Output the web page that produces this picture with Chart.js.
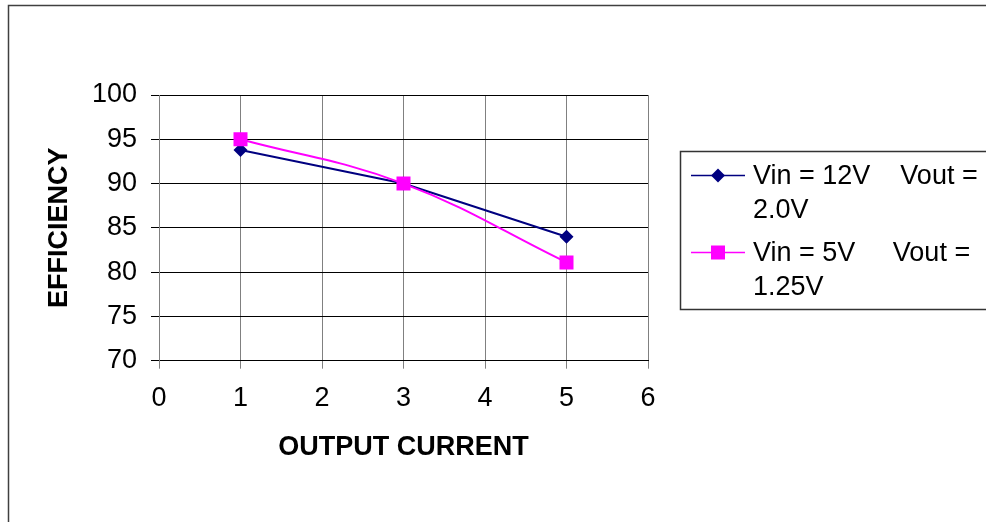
<!DOCTYPE html>
<html>
<head>
<meta charset="utf-8">
<title>Efficiency vs Output Current</title>
<script src="https://cdn.jsdelivr.net/npm/chart.js@4.4.1/dist/chart.umd.min.js"></script>
<style>
    html, body {
        margin: 0;
        padding: 0;
        background: #ffffff;
        overflow: hidden;
    }

    #wrap {
        position: relative;
        width: 986px;
        height: 522px;
    }
</style>
</head>
<body>
<div id="wrap">
    <canvas id="effChart"></canvas>
</div>

<script>
"use strict";

/* ---------- data ---------- */

const outputCurrent = [1, 3, 5];

const eff12V = [93.8, 90, 84];

const eff5V = [95, 90, 81.1];

const seriesLabels = [
    ["Vin = 12V    Vout =", "2.0V"],
    ["Vin = 5V     Vout =", "1.25V"]
];

const seriesColors = ["#000080", "#ff00ff"];

const xTicks = [0, 1, 2, 3, 4, 5, 6];

const yTicks = [70, 75, 80, 85, 90, 95, 100];

const FONT = "'Liberation Sans', Arial, sans-serif";


/* ---------- helpers ---------- */

function toPoints(xs, ys) {
    return xs.map((x, i) => ({ x: x, y: ys[i] }));
}


/* ---------- frame + legend plugin ---------- */

const frameLegend = {

    id: "frameLegend",

    beforeDraw(chart) {
        const ctx = chart.ctx;
        ctx.save();
        ctx.fillStyle = "#ffffff";
        ctx.fillRect(0, 0, chart.width, chart.height);
        ctx.strokeStyle = "#404040";
        ctx.lineWidth = 1.5;
        ctx.strokeRect(8.5, 5.5, chart.width + 20, chart.height + 20);
        ctx.restore();
    },

    afterDraw(chart) {
        const ctx = chart.ctx;
        const boxLeft = 680.5;
        const boxTop = 151.5;
        const boxBottom = 309.5;

        ctx.save();

        ctx.strokeStyle = "#333333";
        ctx.lineWidth = 1.5;
        ctx.strokeRect(boxLeft, boxTop, chart.width + 20, boxBottom - boxTop);

        const rowY = [175.5, 252.5];

        chart.data.datasets.forEach((ds, i) => {
            const y = rowY[i];

            ctx.strokeStyle = ds.borderColor;
            ctx.lineWidth = 1.5;
            ctx.beginPath();
            ctx.moveTo(691, y);
            ctx.lineTo(745, y);
            ctx.stroke();

            ctx.fillStyle = ds.backgroundColor;
            Chart.helpers.drawPoint(ctx, {
                pointStyle: ds.pointStyle,
                radius: ds.pointRadius,
                rotation: 0,
                borderWidth: 0
            }, 718, y);

            ctx.fillStyle = "#000000";
            ctx.font = "27px " + FONT;
            ctx.textBaseline = "middle";
            ctx.textAlign = "left";

            seriesLabels[i].forEach((line, j) => {
                ctx.fillText(line, 753, y + 1 + j * 34);
            });
        });

        ctx.restore();
    }
};


/* ---------- chart ---------- */

function createEfficiencyChart() {

    const canvas = document.getElementById("effChart");

    new Chart(canvas, {

        type: "line",

        data: {
            datasets: [
                {
                    label: seriesLabels[0].join(" "),
                    data: toPoints(outputCurrent, eff12V),
                    borderColor: seriesColors[0],
                    backgroundColor: seriesColors[0],
                    borderWidth: 2,
                    tension: 0,
                    pointStyle: "rectRot",
                    pointRadius: 7,
                    pointBorderWidth: 0,
                    order: 1
                },
                {
                    label: seriesLabels[1].join(" "),
                    data: toPoints(outputCurrent, eff5V),
                    borderColor: seriesColors[1],
                    backgroundColor: seriesColors[1],
                    borderWidth: 2,
                    tension: 0.4,
                    pointStyle: "rect",
                    pointRadius: 9.9,
                    pointBorderWidth: 0,
                    order: 0
                }
            ]
        },

        options: {

            responsive: true,
            maintainAspectRatio: false,
            animation: false,
            devicePixelRatio: 1,

            layout: {
                padding: { top: 95, right: 338, bottom: 0, left: 0 }
            },

            scales: {

                x: {
                    type: "linear",
                    min: xTicks[0],
                    max: xTicks[xTicks.length - 1],
                    afterBuildTicks: (scale) => {
                        scale.ticks = xTicks.map(v => ({ value: v }));
                    },
                    afterFit: (scale) => {
                        scale.height = 161.3;
                    },
                    grid: {
                        color: "#808080",
                        lineWidth: 1,
                        tickLength: 8
                    },
                    border: {
                        color: "#000000",
                        width: 1
                    },
                    ticks: {
                        color: "#000000",
                        padding: 14,
                        maxRotation: 0,
                        font: { family: FONT, size: 27 }
                    },
                    title: {
                        display: true,
                        text: "OUTPUT CURRENT",
                        color: "#000000",
                        padding: { top: 0, bottom: 57.8 },
                        font: { family: FONT, size: 27, weight: "bold" }
                    }
                },

                y: {
                    min: yTicks[0],
                    max: yTicks[yTicks.length - 1],
                    afterBuildTicks: (scale) => {
                        scale.ticks = yTicks.map(v => ({ value: v }));
                    },
                    afterFit: (scale) => {
                        scale.width = 159;
                    },
                    grid: {
                        color: "#000000",
                        lineWidth: 1,
                        tickLength: 8
                    },
                    border: {
                        color: "#808080",
                        width: 1
                    },
                    ticks: {
                        color: "#000000",
                        padding: 14,
                        font: { family: FONT, size: 27 }
                    },
                    title: {
                        display: true,
                        text: "EFFICIENCY",
                        color: "#000000",
                        padding: { top: 43.3, bottom: 0 },
                        font: { family: FONT, size: 27, weight: "bold" }
                    }
                }
            },

            plugins: {
                legend: { display: false },
                tooltip: { enabled: false }
            }
        },

        plugins: [frameLegend]
    });
}

createEfficiencyChart();
</script>
</body>
</html>
